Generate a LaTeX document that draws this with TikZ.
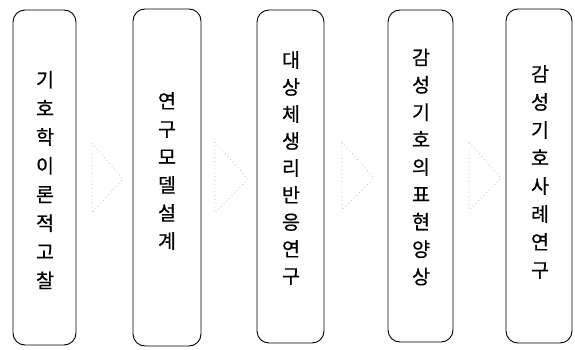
\documentclass[tikz,border=0pt]{standalone}
\usepackage{fontspec}
\newfontfamily\krfont[FakeBold=0.6]{Noto Sans CJK KR}
\begin{document}
\begin{tikzpicture}[x=1pt,y=-1pt,
  stagebox/.style={draw=black, line width=0.9pt, rounded corners=12pt, inner sep=0pt},
  stagetext/.style={align=center, inner sep=0pt, font=\krfont\fontsize{19.5}{28}\selectfont},
  arrowtri/.style={draw=gray!55, line width=0.7pt, dash pattern=on 0.8pt off 3pt, line join=round}]
\useasboundingbox (0,0) rectangle (575,350);
\node[stagebox, minimum width=63pt, minimum height=335pt] (b1) at (44.5,177.5) {};
\node[stagebox, minimum width=68pt, minimum height=337pt] (b2) at (167,177.5) {};
\node[stagebox, minimum width=67pt, minimum height=333pt] (b3) at (290.5,176.5) {};
\node[stagebox, minimum width=65pt, minimum height=332pt] (b4) at (420.5,176) {};
\node[stagebox, minimum width=66pt, minimum height=334pt] (b5) at (539,176) {};
\node[stagetext, font=\krfont\fontsize{19.5}{28.7}\selectfont] (t1) at (45,180) {기\\호\\학\\이\\론\\적\\고\\찰};
\node[stagetext] (t2) at (167,171) {연\\구\\모\\델\\설\\계};
\node[stagetext, font=\krfont\fontsize{19.5}{27}\selectfont] (t3) at (291,168) {대\\상\\체\\생\\리\\반\\응\\연\\구};
\node[stagetext, font=\krfont\fontsize{19.5}{27.4}\selectfont] (t4) at (421,167) {감\\성\\기\\호\\의\\표\\현\\양\\상};
\node[stagetext] (t5) at (540,172) {감\\성\\기\\호\\사\\례\\연\\구};
\draw[arrowtri] (92,143) -- (123,179) -- (92,213) -- cycle;
\draw[arrowtri] (215,142) -- (248,179) -- (215,213) -- cycle;
\draw[arrowtri] (342,142) -- (374,178) -- (342,210) -- cycle;
\draw[arrowtri] (469,142) -- (501,178) -- (469,210) -- cycle;
\end{tikzpicture}
\end{document}
